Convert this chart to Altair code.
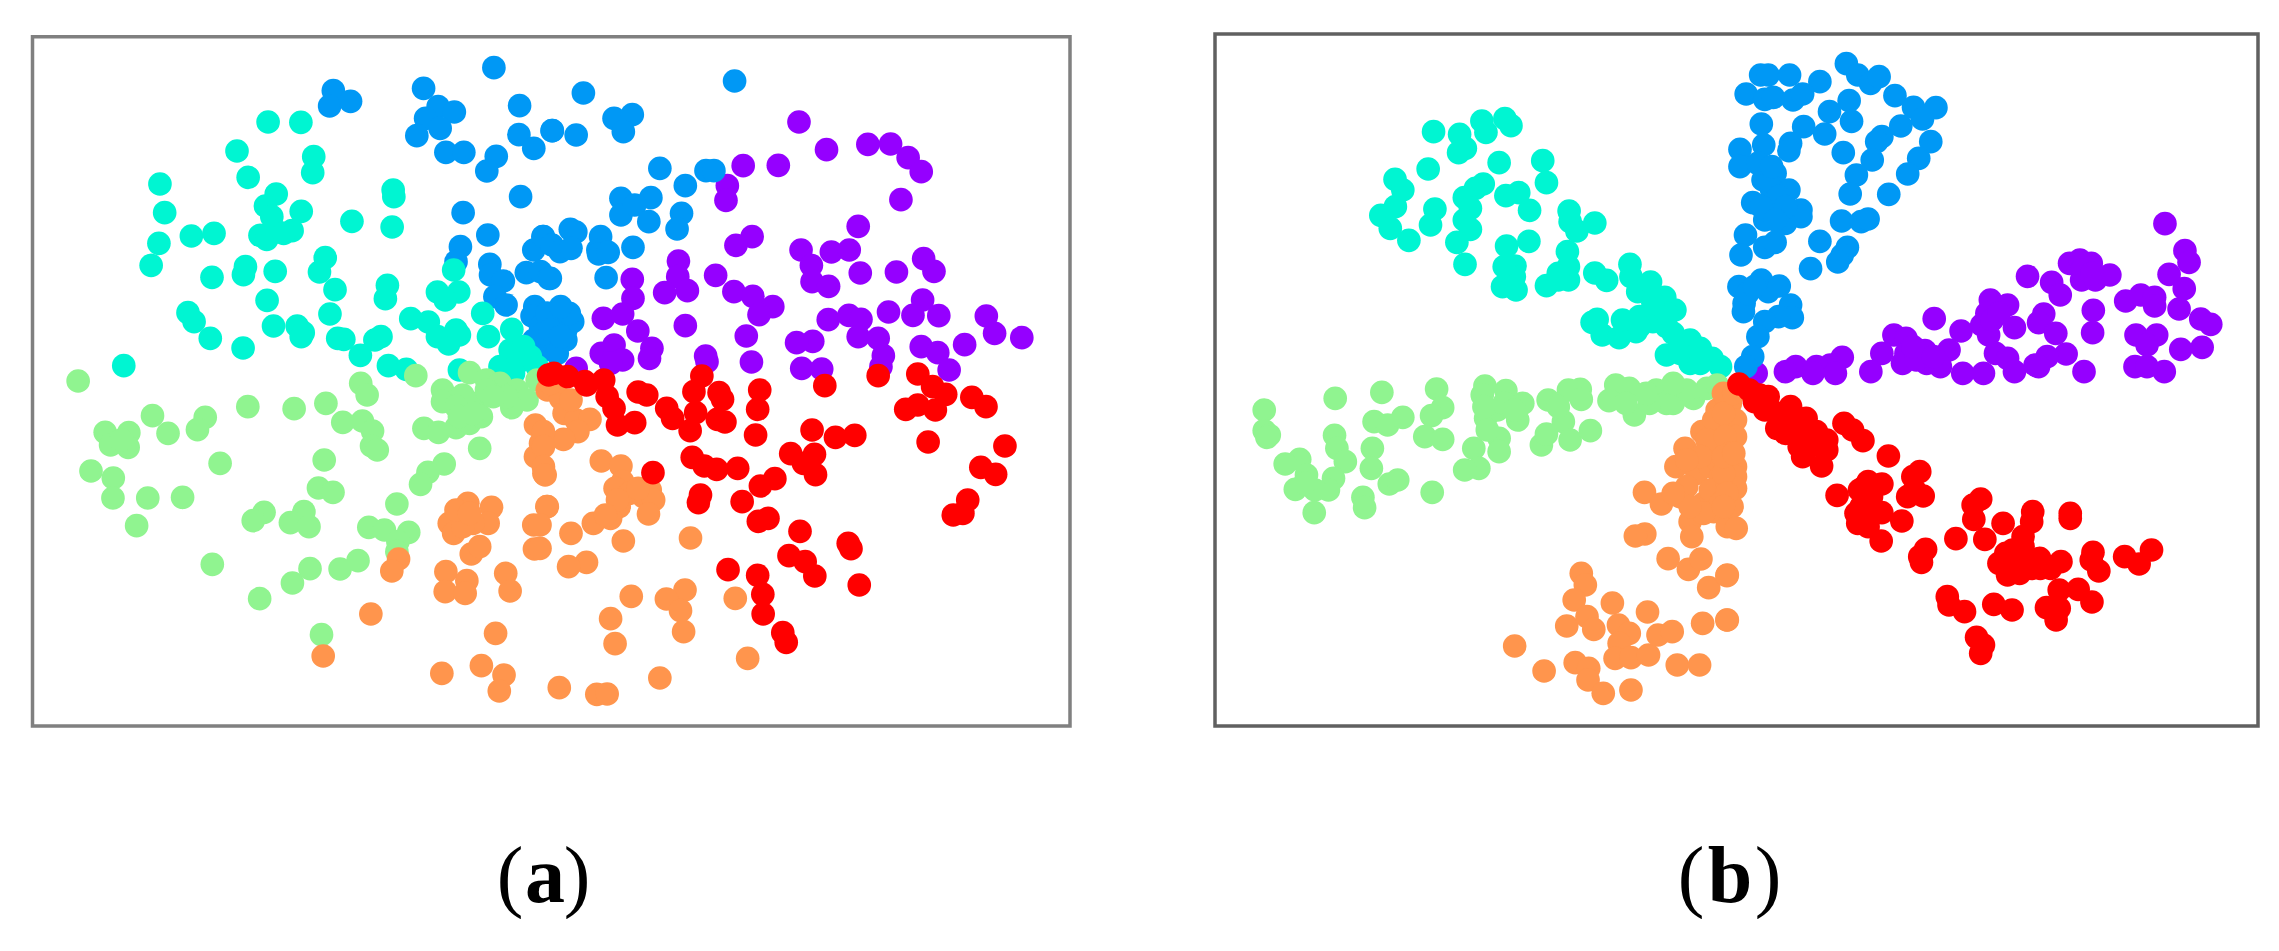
import altair as alt
import pandas as pd

# Values, per crop of the reference: (x, y) in crop units.
CROPS = {
    "A1": (20, 20, 530), "A2": (540, 20, 540), "A3": (20, 360, 530), "A4": (540, 360, 540),
    "B1": (1200, 20, 530), "B2": (1720, 20, 540), "B3": (1200, 360, 530), "B4": (1720, 360, 540),
}
CLASSES = ["c0", "c1", "c2", "c3", "c4", "c5"]
COLORS = ["#9500ff", "#0098f5", "#00f5d2", "#90f490", "#ff954d", "#ff0000"]

a_teal = [(734,306),(831,307),(642,393),(869,410),(866,458),(675,472),(414,492),(428,578),(411,670),(388,736),(507,648),(574,640),(758,522),(726,558),(745,590),(832,574),(710,646),(730,658),(760,635),(805,632),(780,640),(1104,510),(1106,530),(982,604),(1101,621),(568,772),(667,740),(661,764),(755,754),(903,713),(886,756),(932,809),(1087,796),(1081,836),(731,841),(497,878),(515,905),(563,955),(660,984),(750,918),(820,918),(838,938),(832,950),(917,882),(940,955),(958,958),(1007,1006),(1050,960),(1068,950),(1090,1037),(1143,1048),(1283,750),(1235,816),(1298,816),(1258,840),(1369,880),(1156,896),(1208,906),(1235,950),(1268,972),(1290,930),(1300,945),(1386,950),(1455,928),(1450,990),(1490,980),(1420,1040),(1470,1030),(1300,1050),(307,1037),(1510,1010),(1530,1040),(1460,1060)]
a_blue1 = [(1402,143),(927,212),(916,258),(978,244),(1194,205),(1237,260),(1285,276),(1200,295),(1243,325),(1174,347),(1260,397),(1313,397),(1478,257),(1476,344),(1520,385),(1575,332),(1409,409),(1381,453),(1481,530),(1311,578),(1384,645),(1303,680),(1290,725),(1390,733),(1392,765),(1430,783),(1405,830),(1438,855),(1547,650),(1520,690),(1498,758),(1540,755),(1565,775),(1523,860),(1515,888),(1540,920),(1520,960),(1550,990),(1560,880),(1560,950)]
a_blue2 = [(565,183),(126,219),(35,332),(105,345),(215,295),(268,284),(242,335),(348,445),(482,452),(505,452),(422,497),(235,535),(322,533),(235,585),(275,555),(316,605),(411,580),(398,627),(88,628),(104,636),(10,650),(35,675),(58,695),(90,685),(176,650),(168,690),(170,702),(198,697),(270,682),(30,775),(192,773),(65,885),(95,905),(40,900),(75,960),(50,1000),(10,940),(20,880),(75,930),(30,930),(60,950),(85,880),(60,860)]
a_purple = [(752,306),(832,389),(952,373),(1018,372),(1069,413),(1107,455),(590,437),(692,436),(544,497),(540,541),(1048,539),(924,619),(616,650),(569,676),(758,690),(788,736),(846,696),(898,690),(930,759),(1035,756),(1114,716),(1144,754),(790,785),(838,799),(402,723),(400,770),(510,766),(362,818),(428,812),(268,778),(270,835),(563,815),(618,829),(676,860),(636,884),(1111,840),(1083,886),(1158,887),(1012,876),(837,899),(897,886),(932,898),(1296,888),(1320,940),(1399,953),(1233,974),(184,895),(240,882),(284,933),(422,917),(599,948),(924,950),(982,955),(792,964),(745,968),(997,1007),(1107,980),(1155,998),(1188,1050),(178,1000),(215,975),(240,1020),(205,1030),(325,985),(318,1015),(481,1008),(485,1025),(614,1026),(760,1045),(818,1047),(105,1045),(990,1040)]
a_red = [(25,45),(40,40),(80,50),(130,65),(185,60),(135,75),(195,110),(215,145),(225,195),(275,188),(285,96),(310,105),(368,145),(385,175),(436,212),(452,158),(447,95),(470,48),(520,98),(530,118),(515,178),(537,186),(638,90),(632,148),(626,225),(982,47),(827,77),(1097,42),(1140,80),(1178,103),(1097,135),(1062,148),(1148,150),(1254,112),(1295,140),(1127,246),(1350,258),(1280,322),(1323,343),(1242,420),(1228,460),(1200,465),(790,210),(858,232),(914,226),(728,281),(797,283),(765,310),(800,344),(442,292),(477,318),(513,328),(574,325),(328,338),(682,356),(640,378),(466,405),(460,428),(587,425),(662,475),(634,484),(755,514),(895,550),(903,566),(723,587),(770,605),(798,648),(927,675),(546,629),(632,646),(647,703),(648,762),(705,818),(715,847)]
a_orange4 = [(60,115),(70,160),(105,180),(145,178),(110,215),(68,238),(10,215),(10,260),(10,320),(15,345),(20,440),(0,495),(90,520),(178,303),(235,318),(240,365),(218,385),(320,390),(300,410),(330,420),(315,462),(230,440),(205,475),(155,490),(242,543),(437,534),(135,607),(83,620),(265,709),(421,690),(367,717),(408,752),(417,815),(205,776),(218,851),(567,715),(603,895),(56,983),(165,1003),(195,1002),(348,954),(0,565),(30,70),(90,120),(260,400),(285,385),(225,420),(190,465)]
a_green = [(172,63),(1008,70),(1027,105),(1171,47),(1330,38),(1380,60),(1420,70),(1470,90),(1530,60),(1500,120),(1455,143),(1250,90),(1250,125),(1310,105),(1290,140),(1350,130),(1390,100),(674,140),(811,146),(905,130),(955,187),(1013,183),(1043,213),(1040,258),(1057,270),(392,167),(438,220),(548,172),(525,209),(252,217),(268,255),(322,218),(320,262),(300,240),(592,310),(900,300),(1360,265),(1195,205),(1238,217),(1290,203),(1330,190),(1365,170),(210,333),(276,354),(275,414),(378,414),(481,412),(345,497),(1255,312),(1207,337),(1185,373),(883,384),(926,397),(1115,432),(722,457),(690,482),(840,455),(800,488),(855,500),(1032,502),(1078,510),(1150,517),(1118,545),(1115,575),(1000,602),(947,627),(858,626),(806,669),(569,613),(709,716),(892,824),(1300,170),(1340,160),(1380,90),(1440,110),(1400,110)]
a_orange3 = [(1120,597),(1100,633),(1038,762),(897,888),(1407,820),(1248,940),(1365,917),(1432,945),(1418,993),(1260,635),(1322,662),(1258,695),(1317,700),(1437,640),(1450,693),(1335,582),(1360,560),(1522,567),(1520,495),(1395,442),(1385,490),(1325,430),(1300,470),(1270,490),(1283,520),(1340,490),(1310,500),(1525,195),(1540,250),(1525,290),(1550,340),(1560,440),(1560,90),(1290,450),(1330,460)]

b_teal = [(691,335),(768,343),(765,398),(785,385),(834,303),(846,337),(902,296),(920,317),(675,447),(885,428),(1014,422),(1025,488),(577,478),(600,510),(578,560),(535,586),(563,625),(618,661),(838,492),(815,505),(782,533),(800,565),(782,600),(800,628),(760,667),(695,567),(682,615),(905,527),(943,518),(975,571),(1092,573),(1095,605),(1115,633),(1168,609),(907,678),(973,664),(1087,695),(1090,740),(932,738),(930,770),(784,733),(895,800),(935,810),(1025,797),(1060,780),(1090,780),(1168,759),(1203,781),(1272,733),(1275,770),(1295,815),(1333,786),(1375,832),(1405,870),(1380,880),(1175,898),(1160,907),(1190,945),(1240,953),(1290,935),(1300,890),(1340,905),(1400,940),(1420,970),(1380,1005),(1450,1030),(1480,985),(1515,1015),(1540,1040),(1340,850),(1380,920),(1250,900),(1300,920),(1440,990),(1450,960),(1420,1000),(1480,1030),(900,740),(925,800),(1060,760)]
b_blue = [(367,131),(400,165),(437,190),(462,170),(118,165),(140,165),(202,165),(290,185),(76,222),(130,238),(155,232),(212,240),(240,222),(508,227),(562,262),(627,263),(588,297),(375,242),(318,275),(382,304),(120,312),(243,320),(304,342),(127,375),(205,370),(200,392),(58,388),(58,440),(525,318),(470,350),(455,365),(612,365),(358,398),(442,420),(577,415),(545,462),(396,465),(378,522),(490,523),(128,450),(160,460),(125,480),(200,510),(150,510),(95,548),(150,550),(235,570),(235,590),(190,610),(130,600),(175,575),(353,603),(410,605),(430,597),(74,645),(61,705),(130,682),(160,667),(290,664),(370,682),(355,705),(342,726),(263,746),(55,800),(120,780),(140,815),(172,798),(70,850),(68,875),(205,855),(210,893),(170,890),(130,905),(110,950),(95,1010),(75,1040),(140,480),(170,530),(120,560),(190,560),(160,600),(110,430),(150,440),(80,820),(100,800)]
b_purple = [(1292,611),(1350,692),(1362,727),(1304,763),(1348,806),(1333,867),(893,769),(963,787),(988,825),(1015,730),(1045,720),(1078,730),(1050,780),(1090,780),(1132,765),(1178,843),(1222,825),(1262,832),(1262,858),(1084,871),(1082,938),(1396,897),(1425,913),(1400,982),(1338,988),(1208,945),(1268,945),(1240,975),(622,896),(785,840),(835,855),(775,880),(760,915),(855,923),(780,945),(700,933),(940,882),(925,908),(975,940),(1005,1002),(950,1010),(915,1035),(800,1000),(835,1015),(855,1055),(505,945),(540,955),(595,992),(470,1000),(540,1000),(665,990),(530,1030),(600,1030),(640,1040),(438,1055),(355,1012),(320,1035),(280,1040),(220,1040),(190,1055),(270,1060),(335,1060),(705,1060),(765,1060),(1057,1055),(1205,1040),(1240,1040),(1290,1055),(925,1040),(790,900),(810,880),(570,1020),(560,980),(620,1010),(1050,750),(1080,760),(105,1060)]
b_red = [(55,72),(85,90),(115,105),(140,110),(130,150),(165,205),(205,140),(250,175),(200,180),(230,215),(280,215),(310,240),(360,190),(385,210),(415,242),(240,290),(295,318),(310,270),(260,260),(489,288),(580,335),(560,350),(565,390),(590,408),(545,410),(340,406),(430,365),(470,372),(405,390),(440,410),(395,460),(400,490),(430,500),(470,458),(528,483),(468,543),(757,417),(735,435),(737,478),(822,490),(908,455),(905,485),(880,530),(685,536),(769,538),(597,568),(580,590),(585,607),(1017,460),(1017,475),(1083,577),(1078,600),(1100,633),(1175,590),(1217,612),(1253,570),(830,580),(810,610),(835,645),(870,580),(905,625),(928,595),(960,625),(990,605),(985,690),(1040,688),(1080,726),(660,710),(665,735),(710,755),(795,733),(848,750),(948,743),(985,745),(976,780),(745,832),(765,855),(757,880),(100,125),(170,160),(190,220),(250,240),(230,260),(290,250),(420,380),(440,450),(410,440),(840,620),(880,610),(870,640),(930,625),(850,570),(880,560)]
b_orange4 = [(30,130),(45,180),(45,230),(45,320),(45,350),(45,385),(35,440),(47,505),(20,647),(20,780),(10,100),(10,160),(15,230),(30,280),(10,340),(20,400),(10,440),(40,100),(10,290),(40,280)]
b_green = [(190,150),(190,212),(205,225),(198,232),(400,115),(538,97),(700,87),(718,143),(685,167),(515,185),(555,195),(600,172),(398,226),(405,265),(430,305),(510,265),(507,325),(665,230),(718,238),(295,298),(252,312),(315,345),(395,355),(380,390),(340,390),(282,388),(338,458),(482,412),(487,443),(560,372),(585,360),(687,397),(843,78),(835,105),(905,92),(955,130),(880,150),(940,180),(845,175),(885,235),(885,275),(810,265),(825,325),(783,330),(1030,120),(1090,90),(1125,88),(1128,118),(1075,185),(1095,240),(1155,212),(1010,255),(1025,222),(1230,75),(1270,85),(1210,122),(1285,165),(1350,90),(1380,130),(1420,100),(1460,115),(1500,85),(1530,75),(1330,130),(840,140),(850,210),(1320,100),(1400,130),(1440,90),(1260,130),(1060,140),(900,130),(930,150),(310,370),(1400,70)]
b_orange3 = [(1530,150),(1485,215),(1435,265),(1408,320),(1470,340),(1510,320),(1550,250),(1540,200),(1315,397),(1365,432),(1420,410),(1440,380),(1490,430),(1520,455),(1550,400),(1450,485),(1455,530),(1560,310),(1560,500),(1316,522),(1288,528),(1385,596),(1445,628),(1482,597),(1505,683),(1560,645),(1128,640),(1140,675),(1107,720),(1085,798),(1145,770),(1165,808),(1220,729),(1324,756),(1487,790),(1560,780),(1238,795),(1270,820),(1240,850),(1228,895),(1275,893),(1327,885),(1355,825),(1397,815),(1412,915),(1478,915),(931,858),(1018,933),(1110,908),(1150,925),(1148,960),(1193,1000),(1275,990),(1530,250),(1500,280),(1530,300),(1540,350),(1510,390),(1540,430),(1490,460),(1450,440),(1400,400),(1560,370),(1555,150),(1520,180),(1500,240),(1480,290),(1440,300)]

PANEL_A = [("c0", "A2", a_purple), ("c1", "A1", a_blue1), ("c1", "A2", a_blue2), ("c2", "A1", a_teal),
           ("c3", "A3", a_green), ("c4", "A3", a_orange3), ("c4", "A4", a_orange4), ("c5", "A4", a_red)]
PANEL_B = [("c0", "B2", b_purple), ("c1", "B2", b_blue), ("c2", "B1", b_teal), ("c3", "B3", b_green),
           ("c4", "B3", b_orange3), ("c4", "B4", b_orange4), ("c5", "B4", b_red)]

FRAME_A = dict(x=32.5, x2=1070, y=36.7, y2=726)
FRAME_B = dict(x=1215, x2=2258, y=34, y2=726)
CAPTION_A = [("(", 510, "normal"), ("a", 545, "bold"), (")", 577, "normal")]
CAPTION_B = [("(", 1691, "normal"), ("b", 1730, "bold"), (")", 1768, "normal")]
CAPTION_BASE = 902


def table(groups):
    rows = []
    for cls, crop, pts in groups:
        ox, oy, w = CROPS[crop]
        for zx, zy in pts:
            rows.append({"x": ox + zx * w / 1568, "y": oy + zy / 3, "k": cls})
    return pd.DataFrame(rows)


def panel(groups, frame, caption, xdom, stroke):
    xs = alt.Scale(domain=xdom, nice=False, zero=False)
    ys = alt.Scale(domain=[726, 34], nice=False, zero=False)
    pts = alt.Chart(table(groups)).mark_circle(size=560, opacity=1).encode(
        x=alt.X("x:Q", scale=xs, axis=None),
        y=alt.Y("y:Q", scale=ys, axis=None),
        color=alt.Color("k:N", scale=alt.Scale(domain=CLASSES, range=COLORS), legend=None),
    )
    box = alt.Chart(pd.DataFrame([frame])).mark_rect(fillOpacity=0, stroke=stroke, strokeWidth=3.5).encode(
        x=alt.X("x:Q", scale=xs, axis=None), x2="x2:Q",
        y=alt.Y("y:Q", scale=ys, axis=None), y2="y2:Q",
    )
    layers = [box, pts]
    for weight in ("normal", "bold"):
        df = pd.DataFrame([{"t": t, "x": x, "y": CAPTION_BASE} for t, x, w in caption if w == weight])
        layers.append(
            alt.Chart(df).mark_text(font="Liberation Serif", fontSize=80, fontWeight=weight, color="#000000",
                                    baseline="alphabetic", align="center").encode(
                x=alt.X("x:Q", scale=xs, axis=None),
                y=alt.Y("y:Q", scale=ys, axis=None),
                text="t:N",
            )
        )
    return alt.layer(*layers).properties(width=xdom[1] - xdom[0], height=692)


left = panel(PANEL_A, FRAME_A, CAPTION_A, [32, 1072], "#808080")
right = panel(PANEL_B, FRAME_B, CAPTION_B, [1215, 2259], "#606060")

chart = (
    alt.hconcat(left, right, spacing=143, bounds="flush")
    .resolve_scale(x="independent", y="independent", color="shared")
    .configure_view(stroke=None)
    .properties(padding={"left": 22, "top": 24, "right": 0, "bottom": 0}, background="#ffffff")
)
chart.save("out.html", embed_options={"renderer": "svg", "actions": False})
